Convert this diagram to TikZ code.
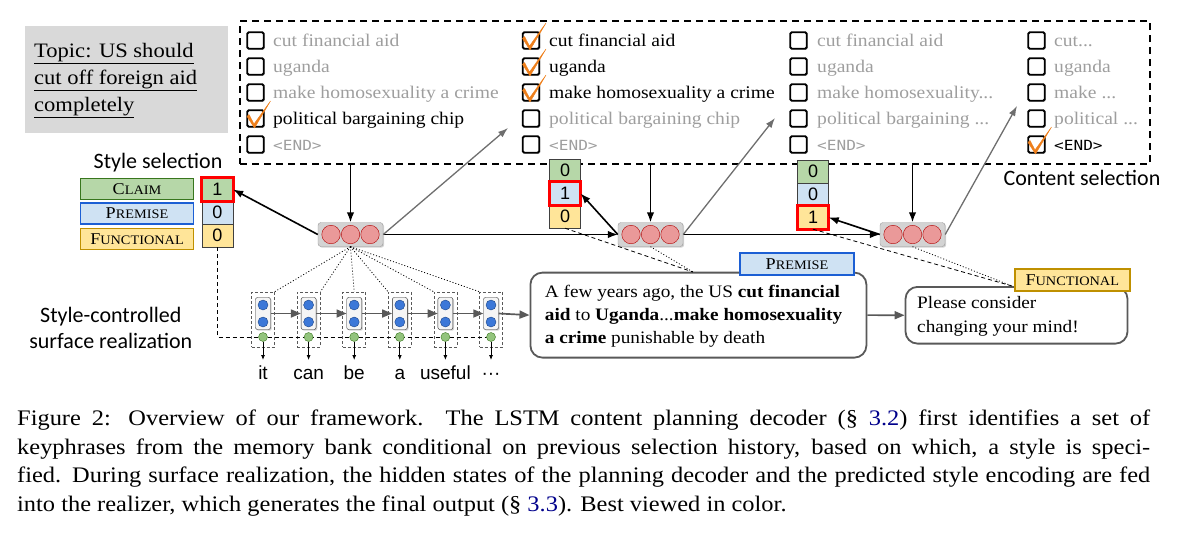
\documentclass[tikz,border=0pt]{standalone}
\usepackage{fontspec}
\setmainfont{Liberation Serif}[FakeStretch=1.1]
\newfontfamily\arialfont{Liberation Sans}
\newfontfamily\califont{Carlito}
\newfontfamily\monofont{DejaVu Sans Mono}[FakeStretch=1.15]
\usetikzlibrary{arrows.meta,shadows}

\definecolor{topicgray}{HTML}{D9D9D9}
\definecolor{unsel}{HTML}{9E9E9E}
\definecolor{tick}{HTML}{EE7F1B}
\definecolor{decfill}{HTML}{D3D3D3}
\definecolor{decline}{HTML}{9A9A9A}
\definecolor{rcfill}{HTML}{EA9999}
\definecolor{rcline}{HTML}{B00000}
\definecolor{bcfill}{HTML}{3C78D8}
\definecolor{bcline}{HTML}{1C4587}
\definecolor{gcfill}{HTML}{93C47D}
\definecolor{gcline}{HTML}{38761D}
\definecolor{clmfill}{HTML}{B6D7A8}
\definecolor{clmline}{HTML}{38761D}
\definecolor{prmfill}{HTML}{CFE2F3}
\definecolor{prmline}{HTML}{1C5FD4}
\definecolor{fncfill}{HTML}{FFE599}
\definecolor{fncline}{HTML}{BF9000}
\definecolor{arrgray}{HTML}{6E6E6E}
\definecolor{boxgray}{HTML}{595959}
\definecolor{refblue}{HTML}{00008B}

% fake small caps for the style names
\newcommand\fsc[2]{{\fontsize{16.5}{16.5}\selectfont #1\fontsize{13}{13}\selectfont #2}}
\newcommand\trail{...}

\begin{document}
\begin{tikzpicture}[x=1pt, y=-1pt,
    shd/.style={drop shadow={shadow xshift=1.2pt, shadow yshift=-1.2pt, opacity=0.35}},
    chk/.style={draw, line width=1.8, fill=white, rounded corners=1.5, minimum size=16.5,
                inner sep=0, shd},
    kp/.style={anchor=base west, inner sep=0, font=\fontsize{17.8}{20}\selectfont},
    endt/.style={kp, font=\monofont\fontsize{14}{15}\selectfont},
    tickm/.style={fill=tick, draw=tick, line width=0.4, line join=round},
    dec/.style={draw=decline, fill=decfill, rounded corners=3, minimum width=65,
                minimum height=24, inner sep=0, shd},
    rc/.style={circle, draw=rcline, fill=rcfill, minimum size=18.5, inner sep=0},
    val/.style={draw=black!75, minimum width=31, minimum height=23, inner sep=0,
                font=\arialfont\fontsize{18}{18}\selectfont},
    hl/.style={draw=red, line width=2.8},
    sty/.style={minimum width=113, minimum height=21, inner sep=0, line width=1.5},
    lab/.style={inner sep=0, font=\califont\fontsize{22}{26.5}\selectfont},
    arr/.style={-{Latex[length=10pt,width=7.5pt]}, line width=1.6},
    garr/.style={-{Latex[length=10pt,width=7pt]}, draw=arrgray, line width=1.3},
    outer/.style={draw=black!65, dash pattern=on 3pt off 2pt, line width=0.8,
                  minimum width=23, minimum height=55, inner sep=0},
    inner/.style={draw=black!85, fill=black!4, rounded corners=2, minimum width=15,
                  minimum height=32, inner sep=0, shd},
    bc/.style={circle, draw=bcline, fill=bcfill, minimum size=10, inner sep=0},
    gc/.style={circle, draw=gcline, fill=gcfill, minimum size=9, inner sep=0},
    rarr/.style={-{Triangle[length=10pt,width=8pt]}, draw=boxgray, line width=1.7},
    sarr/.style={-{Latex[length=5pt,width=4pt]}, line width=0.8},
    word/.style={anchor=base, inner sep=0, outer sep=5, text height=14, text depth=4,
                 font=\arialfont\fontsize{19}{19}\selectfont},
    thin dash/.style={dash pattern=on 4pt off 3pt, line width=0.8},
    thin dot/.style={dash pattern=on 1pt off 2pt, line width=0.8},
    tbox/.style={draw=boxgray, line width=1.8, rounded corners=12, fill=white, inner sep=0},
    ttext/.style={anchor=base west, inner sep=0, align=left,
                  font=\fontsize{17.5}{23.3}\selectfont}]

  \useasboundingbox (0,0) rectangle (1180,539);

  % topic
  \node[fill=topicgray, minimum width=203, minimum height=107, inner sep=0,
        anchor=north west] (topicbox) at (25,26) {};
  \node[anchor=base west, inner sep=0, align=left, font=\fontsize{20.5}{27.2}\selectfont]
    (topic) at (34,111.7)
    {\underline{Topic: US should}\\\underline{cut off foreign aid}\\\underline{completely}};

  % content selection memory
  \node[draw, line width=2, dash pattern=on 7pt off 5pt, minimum width=910,
        minimum height=143, inner sep=0, anchor=north west] (content) at (239,20) {};

  \foreach \c/\bx in {1/255.5, 2/531, 3/798.5, 4/1036.5}
    \foreach \r in {1,2,3,4,5}
      \node[chk] (cb\c\r) at (\bx,{14.5+26*\r}) {};

  \foreach \r/\ta/\ka/\tb/\kb/\tc/\kc/\td/\kd in {
      1/cut financial aid/unsel/cut financial aid/black/cut financial aid/unsel/cut\trail/unsel,
      2/uganda/unsel/uganda/black/uganda/unsel/uganda/unsel,
      3/make homosexuality a crime/unsel/make homosexuality a crime/black/make homosexuality\trail/unsel/make \trail/unsel,
      4/political bargaining chip/black/political bargaining chip/unsel/political bargaining \trail/unsel/political \trail/unsel} {
    \node[kp, text=\ka] (kt1\r) at (273,{20+26*\r}) {\ta};
    \node[kp, text=\kb] (kt2\r) at (549,{20+26*\r}) {\tb};
    \node[kp, text=\kc] (kt3\r) at (817,{20+26*\r}) {\tc};
    \node[kp, text=\kd] (kt4\r) at (1054,{20+26*\r}) {\td};
  }
  \foreach \c/\x/\k in {1/273/unsel, 2/549/unsel, 3/817/unsel, 4/1054/black}
    \node[endt, text=\k] (kt\c5) at (\x,150) {<END>};

  \foreach \b in {cb14, cb21, cb22, cb23, cb45}
    \filldraw[tickm] ([shift={(-8.5,-2)}]\b.center) -- ([shift={(-1,9.5)}]\b.center)
      -- ([shift={(15,-17.5)}]\b.center) -- ([shift={(-1.5,5.5)}]\b.center)
      -- ([shift={(-6.5,-4)}]\b.center) -- cycle;

  \node[lab, anchor=base] (contentsel) at (1082,185.5) {Content selection};

  % planning decoder
  \foreach \n/\x in {1/350.5, 2/650.5, 3/912.5} {
    \node[dec] (dec\n) at (\x,234.5) {};
    \foreach \k/\s in {a/-19.5, b/0, c/19.5}
      \node[rc] (rc\n\k) at ([xshift=\s pt]dec\n.center) {};
  }

  % style selection
  \node[lab, anchor=base] (stylesel) at (158,168) {Style selection};
  \node[sty, draw=clmline, fill=clmfill] (claim) at (137,189) {\fsc{C}{LAIM}};
  \node[sty, draw=prmline, fill=prmfill] (premise) at (137,213.5) {\fsc{P}{REMISE}};
  \node[sty, draw=fncline, fill=fncfill] (functional) at (137,239) {\fsc{F}{UNCTIONAL}};

  \foreach \n/\x/\y/\a/\b/\c in {1/217.5/178/1/0/0, 2/565/159/0/1/0, 3/813/160/0/0/1} {
    \node[val, fill=clmfill] (v\n1) at (\x,\y+11.5) {\a};
    \node[val, fill=prmfill] (v\n2) at (\x,\y+34.5) {\b};
    \node[val, fill=fncfill] (v\n3) at (\x,\y+57.5) {\c};
  }
  \foreach \s in {v11, v22, v33}
    \draw[hl] (\s.north west) rectangle (\s.south east);

  \foreach \n in {1,2,3}
    \draw[arr] (dec\n.north |- content.south) -- (dec\n.north);
  \draw[arr] (dec1.east) -- (dec2.west);
  \draw[arr] (dec2.east) -- (dec3.west);
  \draw[arr] (dec1.west) -- (v11.east);
  \draw[arr] (dec2.west) -- (v22.east);
  \draw[arr] (dec3.west) -- (v33.east);

  \coordinate (pick1) at (508,128);
  \coordinate (pick2) at (775,118);
  \coordinate (pick3) at (1017,106);
  \foreach \n in {1,2,3}
    \draw[garr] (dec\n.east) -- (pick\n);

  % surface realization
  \node[lab, align=center] (realize) at (110.8,328) {Style-controlled\\surface realization};

  \foreach \i in {1,2,3,4,5,6}
    \node[outer] (o\i) at ({263+45.6*(\i-1)},319.5) {};
  \coordinate (styin) at (489,337);
  \draw[thin dash] (v13.south) |- (styin);

  \foreach \w [count=\i] in {it,can,be,a,useful,···} {
    \node[inner] (in\i) at ({263+45.6*(\i-1)},313.5) {};
    \node[bc] (bu\i) at ({263+45.6*(\i-1)},305) {};
    \node[bc] (bl\i) at ({263+45.6*(\i-1)},322) {};
    \node[gc] (gc\i) at ({263+45.6*(\i-1)},337) {};
    \node[word] (w\i) at ({263+45.6*(\i-1)},379) {\w};
    \draw[sarr] (gc\i.south) -- (w\i.north);
  }
  \foreach \i/\j in {1/2, 2/3, 3/4, 4/5, 5/6}
    \draw[rarr] (in\i.east) -- (in\j.west);

  \foreach \a in {o1.north east, o2.north east, o3.north, o4.north west, o5.north west,
                  o6.north west}
    \draw[thin dot] (dec1.south) -- (\a);

  % generated sentences
  \node[tbox, minimum width=336, minimum height=85, anchor=north west] (prem) at (529.5,271.7) {};
  \node[ttext] (premtxt) at (544.7,343.9)
    {A few years ago, the US \textbf{cut financial}\\
     \textbf{aid} to \textbf{Uganda}...\textbf{make homosexuality}\\
     \textbf{a crime} punishable by death};
  \node[tbox, minimum width=222, minimum height=56.7, anchor=north west] (func) at (904.6,286) {};
  \node[ttext] (functxt) at (917,332) {Please consider\\changing your mind!};
  \draw[rarr] (in6.east) -- (prem.west);
  \draw[rarr] (prem.east) -- (func.west);

  \coordinate (premtop) at (693,272);
  \coordinate (functop) at (1012,286);
  \draw[thin dash] (v23.south) -- (premtop);
  \draw[thin dot] (dec2.south) -- (premtop);
  \draw[thin dash] (v33.south) -- (functop);
  \draw[thin dot] (dec3.south) -- (functop);

  \node[sty, line width=2, draw=prmline, fill=prmfill, minimum width=114.5, minimum height=22.3]
    (premlab) at (797,263.9) {\fsc{P}{REMISE}};
  \node[sty, line width=2, draw=fncline, fill=fncfill, minimum width=114.5, minimum height=22]
    (funclab) at (1072.3,280) {\fsc{F}{UNCTIONAL}};

  % caption
  \node[anchor=base west, inner sep=0, text width=1133, align=justify,
        font=\fontsize{22.2}{28.7}\selectfont] (caption) at (17,425.5)
    {Figure 2: Overview of our framework. The LSTM content planning decoder
     (§~\textcolor{refblue}{3.2}) first identifies a set of\linebreak
     keyphrases from the memory bank conditional on previous selection history,
     based on which, a style is speci-\linebreak
     fied. During surface realization, the hidden states of the planning decoder
     and the predicted style encoding are fed\linebreak
     into the realizer, which generates the final output (§~\textcolor{refblue}{3.3}).
     Best viewed in color.};
\end{tikzpicture}
\end{document}
